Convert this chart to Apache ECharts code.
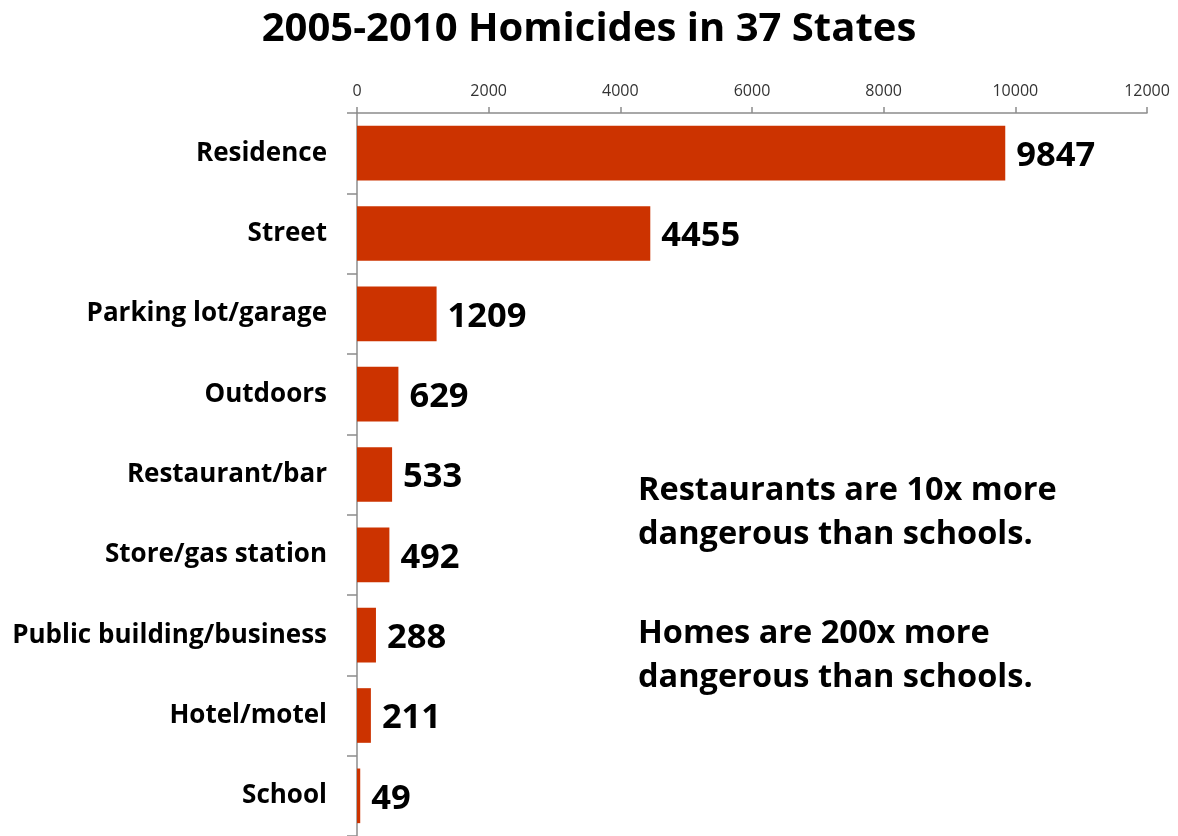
<!DOCTYPE html>
<html>
<head>
<meta charset="utf-8">
<script src="https://cdn.jsdelivr.net/npm/echarts@6/dist/echarts.min.js"></script>
<style>
  html, body { margin: 0; padding: 0; background: #ffffff; }
  #chart { width: 1178px; height: 836px; }
</style>
</head>
<body>
<div id="chart"></div>
<script>
// Homicide counts by location, 2005-2010, 37 states
const categories = [
  'Residence', 'Street', 'Parking lot/garage', 'Outdoors', 'Restaurant/bar',
  'Store/gas station', 'Public building/business', 'Hotel/motel', 'School'
];
const homicides = [9847, 4455, 1209, 629, 533, 492, 288, 211, 49];
const axisMin = 0;
const axisMax = 12000;
const axisStep = 2000;
const titleText = '2005-2010 Homicides in 37 States';
const noteLines = [
  'Restaurants are 10x more\ndangerous than schools.',
  'Homes are 200x more\ndangerous than schools.'
];

const FONT = '"Open Sans", "Liberation Sans", sans-serif';
const chart = echarts.init(document.getElementById('chart'), null, { renderer: 'canvas' });

chart.setOption({
  backgroundColor: '#ffffff',
  animation: false,
  title: {
    text: titleText,
    left: 'center',
    top: 5,
    textStyle: { fontFamily: FONT, fontWeight: 'bold', fontSize: 40, color: '#000000' }
  },
  grid: { left: 357, right: 31, top: 113, bottom: 0, containLabel: false },
  xAxis: {
    type: 'value',
    position: 'top',
    min: axisMin,
    max: axisMax,
    interval: axisStep,
    splitLine: { show: false },
    axisLine: { show: true, lineStyle: { color: '#8c8c8c', width: 1.5 } },
    axisTick: { show: true, length: 6, lineStyle: { color: '#8c8c8c', width: 1.5 } },
    axisLabel: {
      margin: 14, fontFamily: FONT, fontSize: 16, color: '#333333',
      formatter: (v) => String(v)
    }
  },
  yAxis: {
    type: 'category',
    data: categories,
    inverse: true,
    axisLine: { show: true, lineStyle: { color: '#8c8c8c', width: 1.5 } },
    axisTick: { show: true, length: 10, lineStyle: { color: '#8c8c8c', width: 1.5 } },
    axisLabel: {
      margin: 30, fontFamily: FONT, fontWeight: 'bold', fontSize: 26, color: '#000000',
      padding: [4, 0, 0, 0]
    }
  },
  series: [{
    type: 'bar',
    data: homicides,
    barCategoryGap: '32%',
    itemStyle: { color: '#cc3300' },
    label: {
      show: true,
      position: 'right',
      distance: 11,
      offset: [0, 3],
      fontFamily: FONT,
      fontWeight: 'bold',
      fontSize: 34.5,
      color: '#000000'
    }
  }],
  graphic: [
    {
      type: 'text', left: 638, top: 469,
      style: { text: noteLines[0], font: 'bold 32.5px ' + FONT, lineHeight: 44, fill: '#000000' }
    },
    {
      type: 'text', left: 638, top: 612,
      style: { text: noteLines[1], font: 'bold 32.5px ' + FONT, lineHeight: 44, fill: '#000000' }
    }
  ]
});
</script>
</body>
</html>
